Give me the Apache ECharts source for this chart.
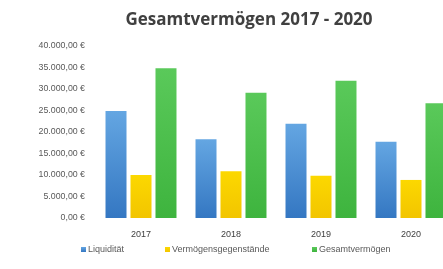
<!DOCTYPE html>
<html><head><meta charset="utf-8">
<script src="https://cdn.jsdelivr.net/npm/echarts@6/dist/echarts.min.js"></script>
<style>html,body{margin:0;padding:0;background:#fff}#c{width:443px;height:269px}</style>
</head><body><div id="c"></div>
<script>
var categories = ['2017', '2018', '2019', '2020'];
var liquiditaet = [24900, 18300, 21900, 17750];
var vermoegensgegenstaende = [10000, 10900, 9850, 8850];
var gesamtvermoegen = [34800, 29100, 31900, 26700];
var seriesNames = ['Liquidität', 'Vermögensgegenstände', 'Gesamtvermögen'];

function grad(top, bottom) {
  return new echarts.graphic.LinearGradient(0, 0, 0, 1, [{offset: 0, color: top}, {offset: 1, color: bottom}]);
}
var chart = echarts.init(document.getElementById('c'));
var fmt = function (v) {
  var s = Math.round(v).toString().replace(/\B(?=(\d{3})+(?!\d))/g, '.');
  return s + ',00 €';
};
var legendBase = {
  top: 245, itemWidth: 5, itemHeight: 5, icon: 'rect', padding: 0,
  textStyle: {fontFamily: 'Liberation Sans', fontSize: 9, color: '#595959', padding: [0, 0, 0, -3]}
};
var legendLefts = [81, 165, 312];
chart.setOption({
  animation: false,
  title: {
    text: 'Gesamtvermögen 2017 - 2020', left: 244, textAlign: 'center', top: 7,
    textStyle: {fontFamily: 'Open Sans', fontWeight: 'bold', fontSize: 17, color: '#404040'}
  },
  legend: seriesNames.map(function (n, i) {
    return Object.assign({}, legendBase, {left: legendLefts[i], data: [n]});
  }),
  grid: {left: 96, width: 360, top: 46, bottom: 51, outerBoundsMode: 'none', containLabel: false},
  xAxis: {
    type: 'category', data: categories,
    axisLine: {show: false}, axisTick: {show: false},
    axisLabel: {fontFamily: 'Liberation Sans', fontSize: 9, color: '#404040', margin: 12}
  },
  yAxis: {
    type: 'value', min: 0, max: 40000, interval: 5000,
    splitLine: {show: false}, axisLine: {show: false}, axisTick: {show: false},
    axisLabel: {formatter: fmt, fontFamily: 'Liberation Sans', fontSize: 8.8, color: '#595959', margin: 11}
  },
  series: [
    {name: seriesNames[0], type: 'bar', data: liquiditaet, barWidth: 21, barGap: '19%',
      itemStyle: {color: grad('#64a6e2', '#3477c2')}},
    {name: seriesNames[1], type: 'bar', data: vermoegensgegenstaende, barWidth: 21, barGap: '19%',
      itemStyle: {color: grad('#fcd800', '#f2c500')}},
    {name: seriesNames[2], type: 'bar', data: gesamtvermoegen, barWidth: 21, barGap: '19%',
      itemStyle: {color: grad('#5ac95a', '#3eb43e')}}
  ]
});
</script></body></html>
